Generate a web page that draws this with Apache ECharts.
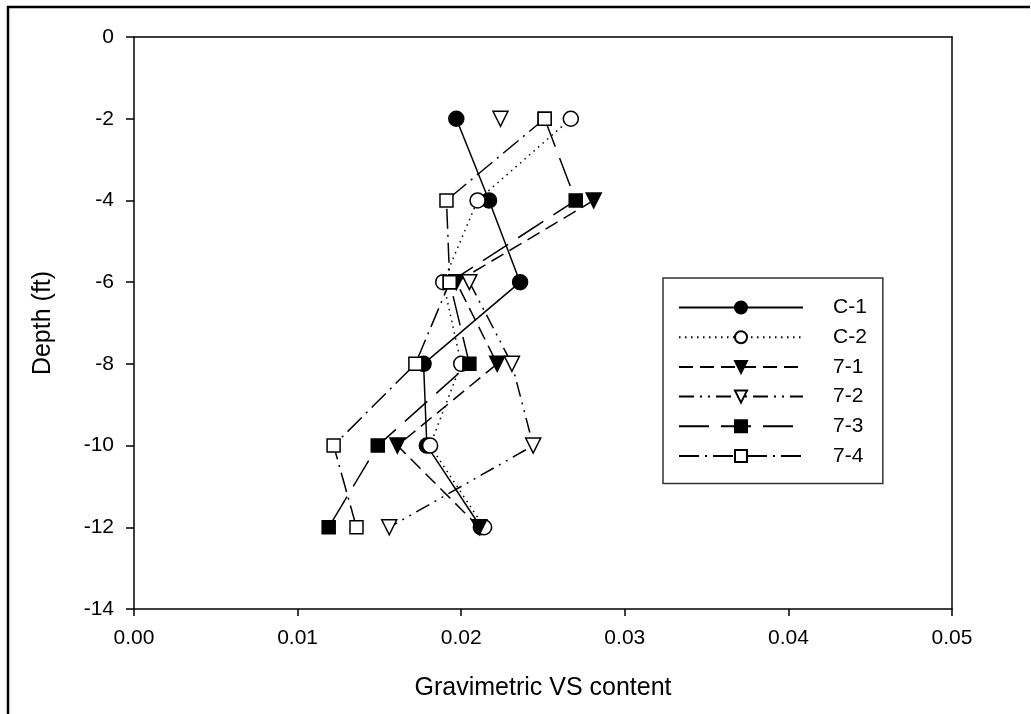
<!DOCTYPE html>
<html>
<head>
<meta charset="utf-8">
<script src="https://cdn.jsdelivr.net/npm/echarts@6/dist/echarts.min.js"></script>
<style>
html, body { margin: 0; padding: 0; background: #fff; }
#chart { width: 1031px; height: 714px; }
</style>
</head>
<body>
<div id="chart"></div>
<script>
// depths (ft) and gravimetric VS content per boring, null = no sample
var depths = [-2, -4, -6, -8, -10, -12];
var c1 = [0.0197, 0.0217, 0.0236, 0.0177, 0.0179, 0.0212];
var c2 = [0.0267, 0.0210, 0.0189, 0.0200, 0.0181, 0.0214];
var s71 = [null, 0.0281, 0.0197, 0.0222, 0.0161, 0.0211];
var s72 = [0.0224, null, 0.0205, 0.0231, 0.0244, 0.0156];
var s73 = [0.0251, 0.0270, 0.0193, 0.0205, 0.0149, 0.0119];
var s74 = [0.0251, 0.0191, 0.0193, 0.0172, 0.0122, 0.0136];

var FONT = 'Liberation Sans, Arial, sans-serif';

function pairs(vals){
	return vals.map(function(v, i){ return [v, depths[i]]; });
}

function makeSeries(name, vals, symbol, size, filled, dash, rotate){
	return {
		name: name,
		type: 'line',
		data: pairs(vals),
		symbol: symbol,
		symbolSize: size,
		symbolRotate: rotate || 0,
		showAllSymbols: true,
		connectNulls: false,
		animation: false,
		itemStyle: {
			color: filled ? '#000' : '#fff',
			borderColor: '#000',
			borderWidth: 1.5,
			opacity: 1
		},
		lineStyle: { color: '#000', width: 1.5, type: dash },
		emphasis: { disabled: true }
	};
}

// plain frame axes (top / right), line only
var frameLine = { show: true, onZero: false, lineStyle: { color: '#000', width: 1.5 } };

var chart = echarts.init(document.getElementById('chart'));
var option = {
	backgroundColor: '#fff',
	animation: false,
	grid: { left: 134, right: 79, top: 37, bottom: 105 },
	xAxis: [{
		type: 'value',
		position: 'bottom',
		min: 0, max: 0.05, interval: 0.01,
		name: 'Gravimetric VS content',
		nameLocation: 'middle',
		nameGap: 67,
		nameTextStyle: { color: '#000', fontSize: 25, fontFamily: FONT },
		axisLine: frameLine,
		axisTick: { show: true, length: 7, lineStyle: { color: '#000', width: 1.5 } },
		axisLabel: {
			color: '#000', fontSize: 21, fontFamily: FONT, margin: 19,
			formatter: function(v){ return v.toFixed(2); }
		},
		splitLine: { show: false }
	}, {
		type: 'value',
		position: 'top',
		min: 0, max: 0.05,
		axisLine: frameLine,
		axisTick: { show: false },
		axisLabel: { show: false },
		splitLine: { show: false }
	}],
	yAxis: [{
		type: 'value',
		position: 'left',
		min: -14, max: 0, interval: 2,
		name: 'Depth (ft)',
		nameLocation: 'middle',
		nameGap: 78,
		nameTextStyle: { color: '#000', fontSize: 25, fontFamily: FONT },
		axisLine: frameLine,
		axisTick: { show: true, length: 8, lineStyle: { color: '#000', width: 1.5 } },
		axisLabel: { color: '#000', fontSize: 21, fontFamily: FONT, margin: 20 },
		splitLine: { show: false }
	}, {
		type: 'value',
		position: 'right',
		min: -14, max: 0,
		axisLine: frameLine,
		axisTick: { show: false },
		axisLabel: { show: false },
		splitLine: { show: false }
	}],
	legend: {
		left: 663,
		top: 278,
		orient: 'vertical',
		padding: [19, 16, 17, 15],
		itemWidth: 124,
		itemHeight: 15,
		itemGap: 8.7,
		borderColor: '#333',
		borderWidth: 1.5,
		backgroundColor: '#fff',
		selectedMode: false,
		textStyle: { color: '#000', fontSize: 21, fontFamily: FONT, lineHeight: 20, padding: [0, 0, 0, 25] },
		data: ['C-1', 'C-2', '7-1', '7-2', '7-3', '7-4']
	},
	graphic: [{
		type: 'polyline',
		shape: { points: [[8, 714], [8, 7], [1030, 7]] },
		style: { stroke: '#000', lineWidth: 2.5, fill: null },
		silent: true
	}],
	series: [
		makeSeries('C-1', c1, 'circle', 15, true, 'solid'),
		makeSeries('C-2', c2, 'circle', 15, false, [1.5, 4.5]),
		makeSeries('7-1', s71, 'triangle', 15, true, [14, 7], 180),
		makeSeries('7-2', s72, 'triangle', 15, false, [15, 6, 2, 6, 2, 6], 180),
		makeSeries('7-3', s73, 'rect', 13, true, [30, 12]),
		makeSeries('7-4', s74, 'rect', 13, false, [20, 6, 2, 6])
	]
};
chart.setOption(option);
</script>
</body>
</html>
